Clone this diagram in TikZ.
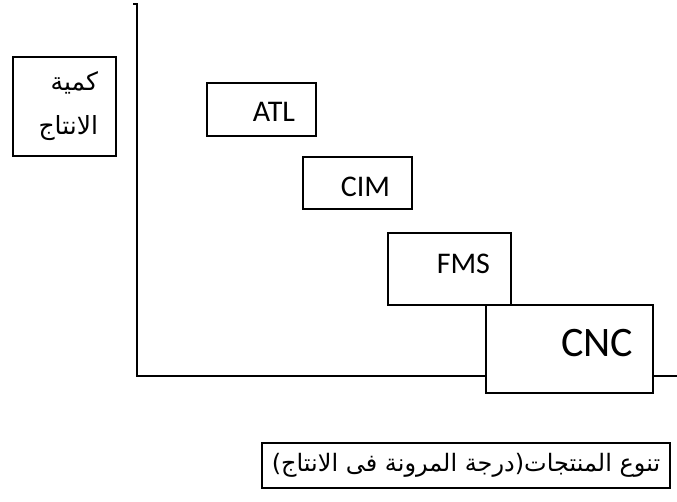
\documentclass[tikz,border=0pt]{standalone}
\usepackage{fontspec}
\setmainfont{Carlito}
\newfontfamily\arabicfont[Script=Arabic]{DejaVu Sans}
\TeXXeTstate=1
\begin{document}
\begin{tikzpicture}[x=1pt,y=-1pt,
  box/.style={draw=black, line width=1.1pt, fill=white, inner ysep=0pt, align=right},
  axis/.style={draw=black, line width=1.1pt}]
\useasboundingbox (0,0) rectangle (677,502);
% axes
\coordinate (tick) at (133,4);
\coordinate (top) at (137,4);
\coordinate (origin) at (137,376);
\coordinate (xend) at (677,376);
\draw[axis] (tick) -- (top) -- (origin) -- (xend);
% boxes
\node[box, minimum width=109pt, minimum height=53pt, inner xsep=21pt, text width=67pt,
  text height=25pt, text depth=0pt,
  font=\fontsize{30}{32}\selectfont] (atl) at (261.5,109.5) {ATL};
\node[box, minimum width=109pt, minimum height=52pt, inner xsep=22pt, text width=65pt,
  text height=27pt, text depth=0pt,
  font=\fontsize{30}{32}\selectfont] (cim) at (357.5,183) {CIM};
\node[box, minimum width=123pt, minimum height=72pt, inner xsep=21pt, text width=81pt,
  text height=10pt, text depth=0pt,
  font=\fontsize{30}{32}\selectfont] (fms) at (449.5,269) {FMS};
\node[box, minimum width=167pt, minimum height=88pt, inner xsep=20pt, text width=127pt,
  text height=15pt, text depth=0pt,
  font=\fontsize{42}{44}\selectfont] (cnc) at (569.5,349) {CNC};
% y label
\node[box, minimum width=103pt, minimum height=99pt, inner xsep=18pt, text width=67pt,
  font=\arabicfont\fontsize{25}{44}\selectfont] (ylab) at (64.5,106.5)
  {\beginR كمية\endR\\ \beginR الانتاج\endR};
% x label
\node[box, minimum width=408pt, minimum height=45pt, inner xsep=4pt, align=center,
  font=\arabicfont\fontsize{24}{28}\selectfont] (xlab) at (466,465.5)
  {\beginR تنوع المنتجات(درجة المرونة فى الانتاج)\endR};
\end{tikzpicture}
\end{document}
